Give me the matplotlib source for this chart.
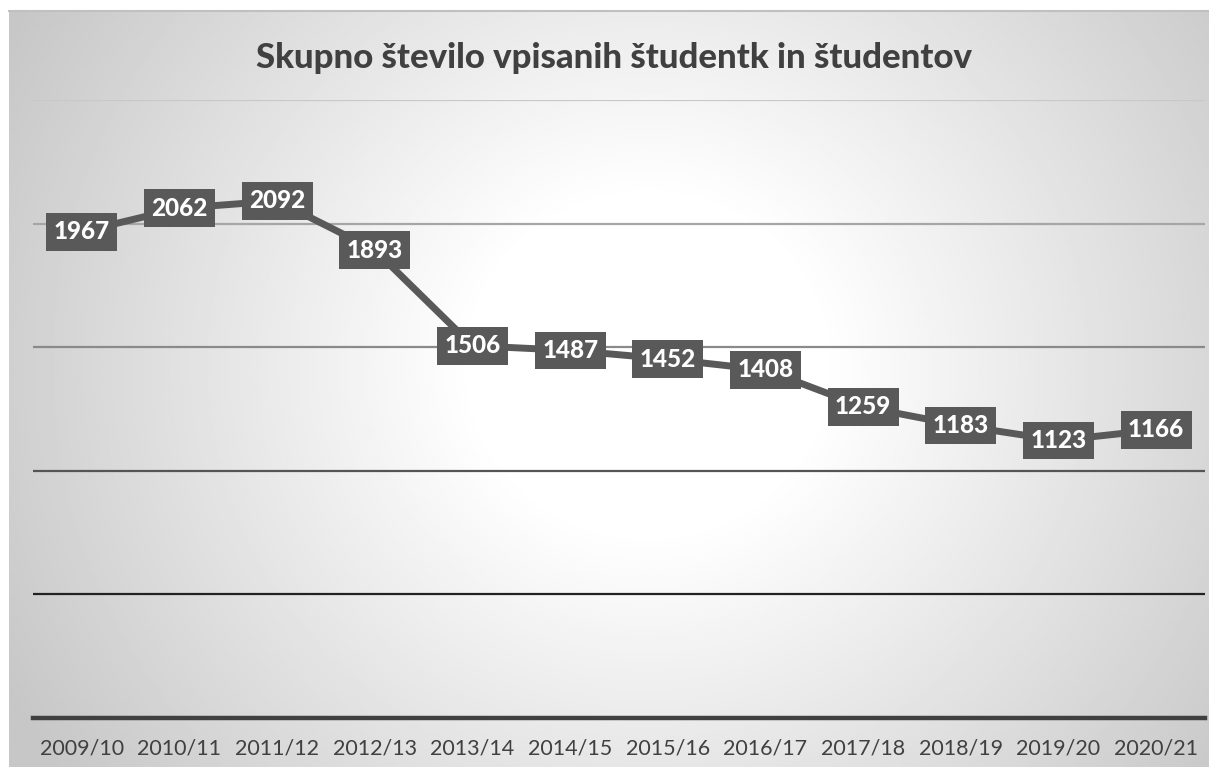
import numpy as np
import matplotlib.pyplot as plt

# podatki
years = ["2009/10", "2010/11", "2011/12", "2012/13", "2013/14", "2014/15",
         "2015/16", "2016/17", "2017/18", "2018/19", "2019/20", "2020/21"]
students = [1967, 2062, 2092, 1893, 1506, 1487, 1452, 1408, 1259, 1183, 1123, 1166]
grid_vals = [500, 1000, 1500, 2000, 2500]
grid_cols = ["#222222", "#555555", "#8a8a8a", "#a6a6a6", "#c8c8c8"]

W, H = 1209, 767
fig = plt.figure(figsize=(W / 100, H / 100), dpi=100)
fig.patch.set_facecolor("white")

# radial gradient background of the chart area
bg = fig.add_axes([9 / W, 0, 1 - 9 / W, 1 - 11 / H])
bg.set_axis_off()
yy, xx = np.mgrid[0:300, 0:480]
cx, cy = 255, 140
r = np.sqrt(((xx - cx) / 1.0) ** 2 + ((yy - cy) / 0.95) ** 2)
v = 1 - 0.22 * np.clip((r - 70) / 220, 0, 1)
bg.imshow(v, cmap="gray", vmin=0, vmax=1, aspect="auto", interpolation="bilinear")
# top border line
fig.add_artist(plt.Line2D([9 / W, 1], [1 - 11 / H, 1 - 11 / H], color="#c0c0c0", lw=1.5))

ax = fig.add_axes([33 / W, 1 - 718 / H, (1205 - 33) / W, 618 / H])
ax.set_facecolor("none")
x = np.arange(len(years))
ax.set_xlim(-0.5, len(years) - 0.5)
ax.set_ylim(0, 2500)

for gv, gc in zip(grid_vals, grid_cols):
    ax.axhline(gv, color=gc, lw=1.6, zorder=1)
ax.axhline(0, color="#404040", lw=3.2, zorder=1, clip_on=False)

ax.plot(x, students, color="#595959", lw=5, zorder=2, solid_capstyle="round")

for xi, s in zip(x, students):
    ax.text(xi, s, str(s), ha="center", va="center", color="white",
            fontsize=17.5, fontweight="black", family="Lato", zorder=3,
            bbox=dict(boxstyle="square,pad=0.3", fc="#595959", ec="none"))

for sp in ax.spines.values():
    sp.set_visible(False)
ax.set_yticks([])
ax.set_xticks(x)
ax.set_xticklabels(years, fontsize=15.5, color="#404040", family="Lato")
ax.tick_params(axis="x", length=0, pad=15)

fig.text(0.508, 1 - 58 / H, "Skupno število vpisanih študentk in študentov",
         ha="center", va="center", fontsize=25, fontweight="black",
         color="#404040", family="Lato")

fig.savefig("out.png", dpi=100)
